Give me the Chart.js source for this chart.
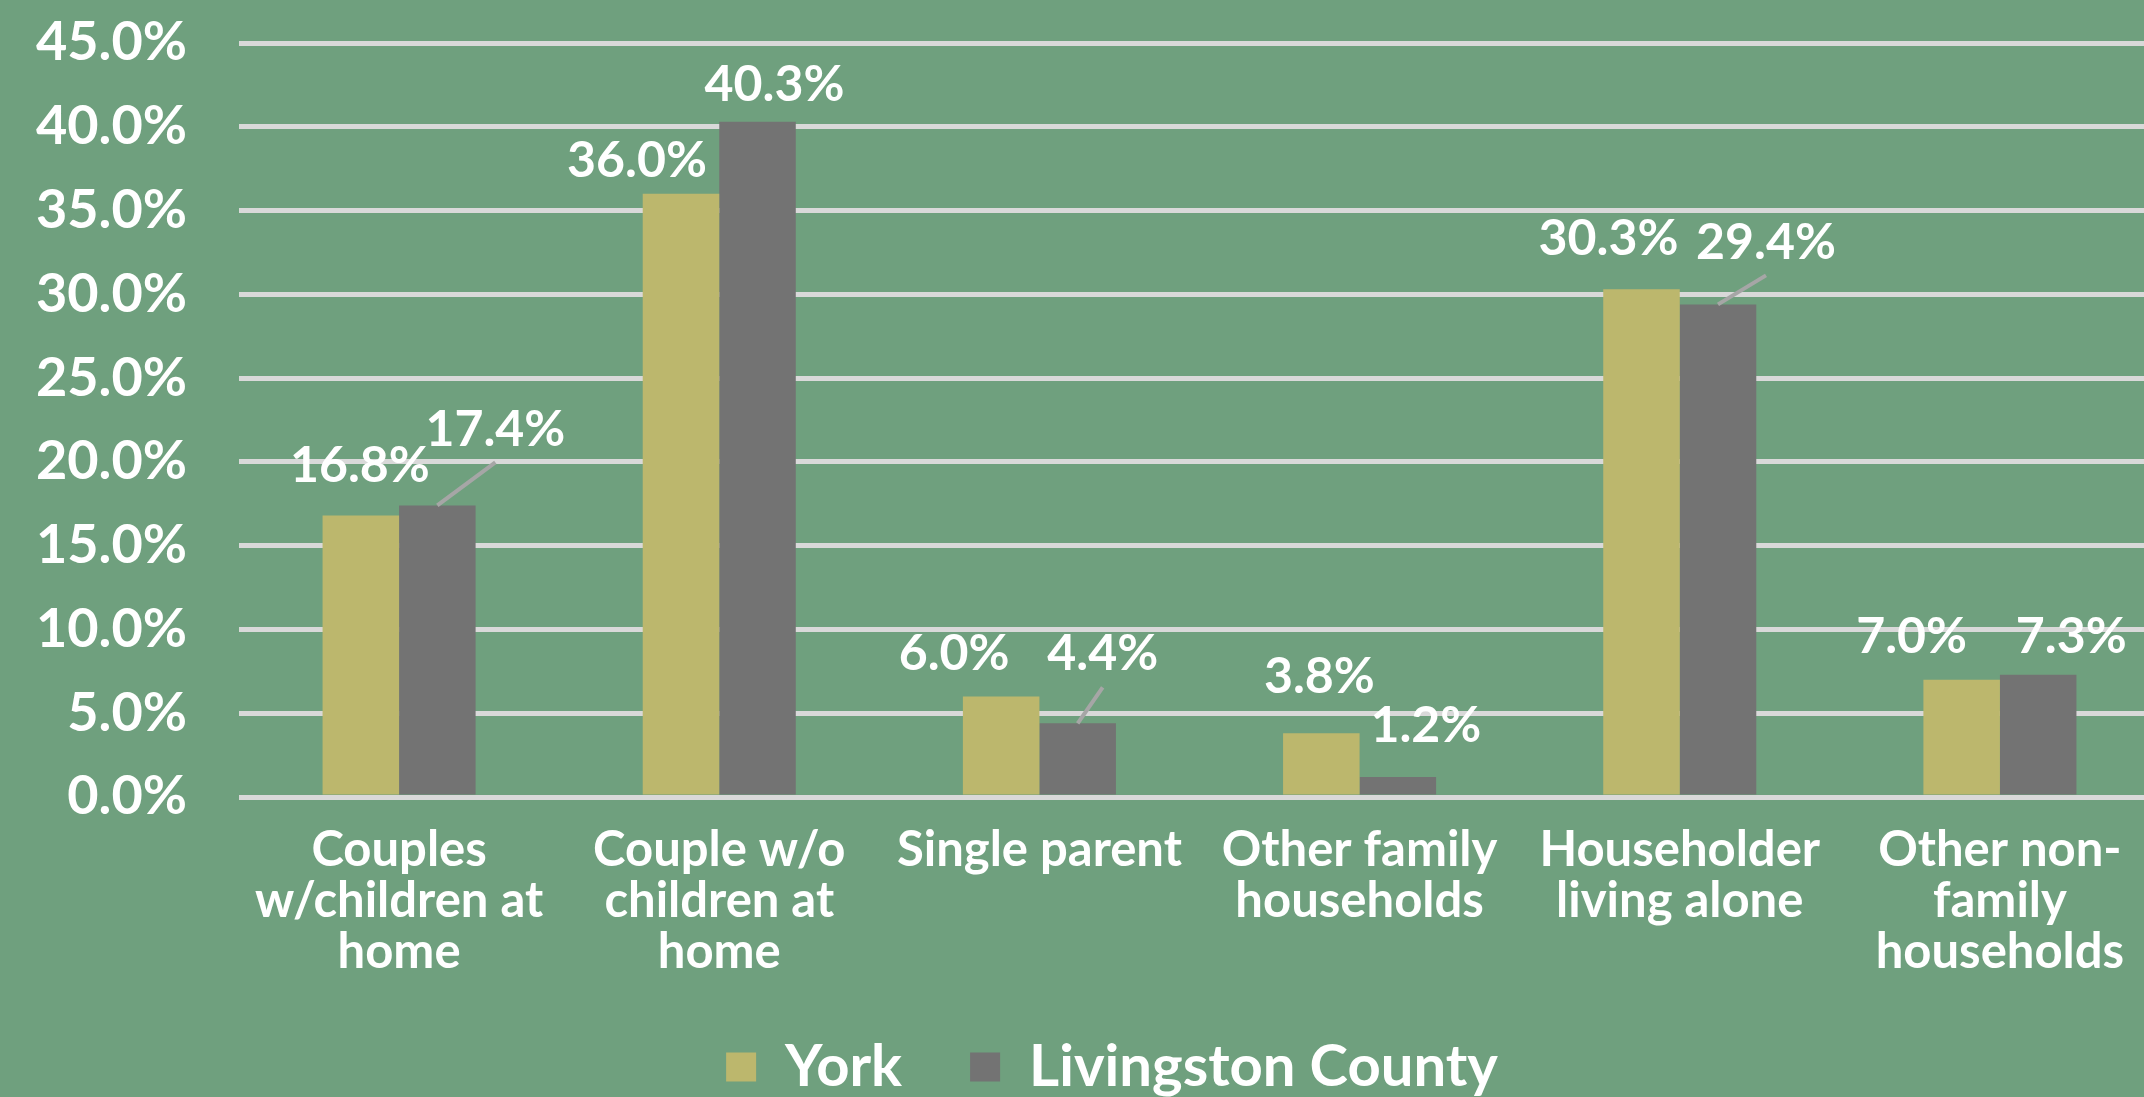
<!DOCTYPE html>
<html lang="en">
<head>
<meta charset="UTF-8">
<title>Household types - York vs Livingston County</title>
<script src="https://cdn.jsdelivr.net/npm/chart.js"></script>
<style>
  html, body { margin: 0; padding: 0; background: #6fa07e; overflow: hidden; }
</style>
</head>
<body>
<canvas id="mainChart" width="2160" height="1097"></canvas>
<script>
// data
const categories = [
    ['Couples', 'w/children at', 'home'],
    ['Couple w/o', 'children at', 'home'],
    ['Single parent'],
    ['Other family', 'households'],
    ['Householder', 'living alone'],
    ['Other non-', 'family', 'households']
];
const seriesNames = ['York', 'Livingston County'];
const yorkValues = [16.8, 36.0, 6.0, 3.8, 30.3, 7.0];
const livingstonValues = [17.4, 40.3, 4.4, 1.2, 29.4, 7.3];
const yTickMax = 45;
const yTickStep = 5;

// label placement (px from bar top centre), Excel moved some of them
const yorkLabelShift = [[-1, -50], [-44, -33], [-47, -43], [-2, -56], [-33, -50], [-50, -43]];
const livLabelShift = [[58, -76], [17, -37], [25, -69], [28, -51], [48, -62], [33, -38]];
const livLeader = [true, false, true, false, true, false];

const BG = '#6fa07e';
const YORK = '#bcb76d';
const LIV = '#737373';
const FONT = 'Lato';

const bgPlugin = {
    id: 'bg',
    beforeDraw(chart) {
        const ctx = chart.ctx;
        ctx.save();
        ctx.fillStyle = BG;
        ctx.fillRect(0, 0, chart.width, chart.height);
        ctx.restore();
    }
};

// the original legend sits a bit right of the canvas centre
const legendShift = {
    id: 'legendShift',
    afterLayout(chart) {
        chart.legend.left += 32;
        chart.legend.right += 32;
    }
};

const labelPlugin = {
    id: 'barLabels',
    afterDatasetsDraw(chart) {
        const ctx = chart.ctx;
        const shifts = [yorkLabelShift, livLabelShift];
        ctx.save();
        ctx.font = 'bold 50px ' + FONT;
        ctx.textAlign = 'center';
        ctx.textBaseline = 'middle';
        chart.data.datasets.forEach((ds, di) => {
            chart.getDatasetMeta(di).data.forEach((bar, i) => {
                const lx = bar.x + shifts[di][i][0];
                const ly = bar.y + shifts[di][i][1];
                if (di === 1 && livLeader[i]) {
                    ctx.strokeStyle = '#a6a6a6';
                    ctx.lineWidth = 4;
                    ctx.beginPath();
                    ctx.moveTo(bar.x, bar.y);
                    ctx.lineTo(lx, ly + 33);
                    ctx.stroke();
                }
                ctx.fillStyle = '#ffffff';
                ctx.fillText(ds.data[i].toFixed(1) + '%', lx, ly);
            });
        });
        ctx.restore();
    }
};

const ctx = document.getElementById('mainChart').getContext('2d');
const chart = new Chart(ctx, {
    type: 'bar',
    data: {
        labels: categories,
        datasets: [{
            label: seriesNames[0],
            data: yorkValues,
            backgroundColor: YORK,
            categoryPercentage: 0.478,
            barPercentage: 1.0
        }, {
            label: seriesNames[1],
            data: livingstonValues,
            backgroundColor: LIV,
            categoryPercentage: 0.478,
            barPercentage: 1.0
        }]
    },
    options: {
        responsive: false,
        animation: false,
        layout: {
            padding: { top: 43, left: 0, right: 0, bottom: -9 }
        },
        scales: {
            x: {
                grid: { display: false },
                border: { display: false },
                ticks: {
                    color: '#ffffff',
                    padding: 20,
                    maxRotation: 0,
                    autoSkip: false,
                    font: { family: FONT, size: 49, weight: 'bold', lineHeight: 1.04 }
                },
                afterFit(scale) { scale.height = 173; }
            },
            y: {
                min: 0,
                max: yTickMax,
                border: { display: false },
                grid: { color: '#d9d9d9', lineWidth: 5, drawTicks: false },
                ticks: {
                    stepSize: yTickStep,
                    color: '#ffffff',
                    padding: 52,
                    font: { family: FONT, size: 54, weight: 'bold' },
                    callback: v => v.toFixed(1) + '%'
                },
                afterFit(scale) {
                    scale.width = 239;
                    scale.paddingTop = 0;
                    scale.paddingBottom = 0;
                }
            }
        },
        plugins: {
            legend: {
                position: 'bottom',
                labels: {
                    color: '#ffffff',
                    boxWidth: 30,
                    boxHeight: 29,
                    padding: 68,
                    font: { family: FONT, size: 58, weight: 'bold' }
                }
            },
            tooltip: { enabled: false }
        }
    },
    plugins: [bgPlugin, legendShift, labelPlugin]
});
</script>
</body>
</html>
